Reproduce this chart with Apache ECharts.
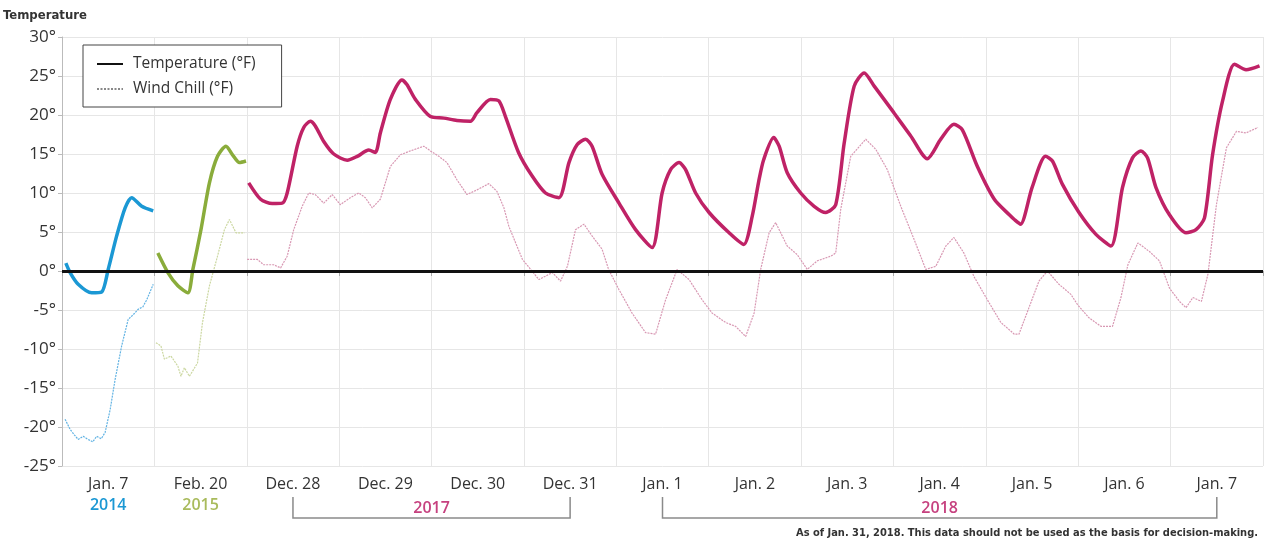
<!DOCTYPE html>
<html><head><meta charset="utf-8">
<script src="https://cdn.jsdelivr.net/npm/echarts@6/dist/echarts.min.js"></script>
<style>html,body{margin:0;padding:0;background:#fff}#c{width:1270px;height:546px}</style>
</head><body><div id="c"></div>
<script>
// ---- categories / tick labels ----
const categories = ['Jan. 7','Feb. 20','Dec. 28','Dec. 29','Dec. 30','Dec. 31','Jan. 1','Jan. 2','Jan. 3','Jan. 4','Jan. 5','Jan. 6','Jan. 7'];
const yTicks = [-25,-20,-15,-10,-5,0,5,10,15,20,25,30];

// ---- Jan 7, 2014 (hours since midnight) ----
const hours2014Temp = [1.0,2.1,4.2,7.7,10.3,12.0,14.2,16.4,18.1,20.7,23.7];
const temp2014      = [1.0,-0.2,-1.7,-2.8,-2.7,0.2,4.5,8.1,9.4,8.3,7.7];
const hours2014WC   = [0.8,2.1,3.2,4.2,5.5,6.8,8.0,9.0,10.2,11.2,12.5,13.8,15.5,17.2,18.5,19.8,21.0,22.0,23.7];
const chill2014     = [-19.0,-20.3,-21.0,-21.6,-21.2,-21.6,-21.9,-21.2,-21.5,-20.7,-17.8,-13.9,-9.6,-6.2,-5.6,-4.9,-4.6,-3.7,-1.7];

// ---- Feb 20, 2015 ----
const hours2015Temp = [0.9,3.5,6.1,8.7,10.0,12.1,14.3,16.4,18.6,20.3,22.1,23.8];
const temp2015      = [2.3,-0.2,-1.9,-2.8,0.2,5.3,11.3,14.7,16.0,14.9,13.9,14.1];
const hours2015WC   = [0.4,1.7,2.6,4.3,6.1,6.9,7.8,9.1,11.2,12.5,14.3,16.4,18.2,19.5,21.2,23.4];
const chill2015     = [-9.2,-9.6,-11.3,-10.9,-12.2,-13.5,-12.4,-13.5,-11.8,-6.6,-1.9,1.9,5.3,6.6,4.9,4.9];

// ---- Dec 28, 2017 - Jan 7, 2018 (hours since Dec 28 midnight) ----
const mainTempHours = [0.5,3.6,6.6,9.2,10.5,13.1,14.8,16.5,17.8,20.0,22.6,26.1,28.7,31.7,33.4,34.7,37.3,40.3,41.6,43.8,47.7,51.2,54.6,58.1,59.8,63.3,65.5,67.2,70.6,74.1,77.6,81.1,83.7,85.8,88.0,89.7,92.3,96.7,101.0,105.3,107.9,110.1,112.3,114.0,116.6,120.1,125.3,129.1,131.3,133.0,134.3,136.9,138.3,140.4,143.9,147.4,150.4,153.0,155.2,157.8,160.4,163.0,168.1,172.5,176.8,180.3,183.7,185.9,189.8,194.2,198.1,199.4,201.0,204.0,207.5,209.3,211.9,216.2,220.6,224.5,227.5,230.1,232.3,234.0,236.2,239.7,244.0,246.6,248.8,250.9,253.5,256.6,259.6,263.1];
const mainTemp      = [11.3,9.2,8.65,8.7,10.0,16.0,18.4,19.2,18.6,16.6,15.0,14.2,14.7,15.5,15.2,17.7,22.0,24.5,23.9,22.0,19.8,19.6,19.3,19.2,20.3,22.0,21.8,19.8,15.2,12.2,10.0,9.4,13.9,16.2,16.9,16.0,12.4,8.7,5.3,3.0,10.0,13.0,13.9,13.0,10.0,7.5,4.9,3.4,7.0,11.5,14.3,17.1,16.0,12.6,10.0,8.3,7.5,8.5,16.4,23.7,25.4,23.7,20.3,17.3,14.4,16.9,18.8,18.1,13.4,9.2,7.2,6.6,6.0,10.7,14.7,14.1,11.1,7.5,4.7,3.2,10.7,14.5,15.4,14.5,10.7,7.2,4.9,5.3,6.8,14.9,21.8,26.5,25.8,26.3];
const mainChillHours = [0.1,2.7,4.4,7.0,8.8,10.5,12.2,14.4,16.1,17.8,20.0,22.2,24.3,26.9,29.1,30.8,32.6,34.7,37.3,39.9,42.5,46.0,47.7,49.9,52.0,54.6,57.2,59.8,62.9,65.0,66.8,68.1,71.6,75.9,79.4,81.5,83.3,85.4,87.6,89.7,92.3,94.0,96.7,100.1,103.6,106.2,108.8,111.8,114.9,118.3,120.9,124.4,127.0,129.6,131.8,133.5,135.7,137.4,140.4,143.0,145.6,148.2,151.7,153.0,154.3,156.9,160.8,163.4,166.4,169.9,173.4,176.4,179.0,181.6,183.7,186.3,188.9,192.4,195.9,199.4,200.6,203.2,205.8,208.0,211.0,214.1,215.8,218.8,221.9,224.9,227.1,228.9,231.5,234.5,237.1,239.7,242.3,244.0,245.8,248.0,249.7,251.9,254.5,257.1,259.6,262.7];
const mainChill      = [1.5,1.5,0.8,0.8,0.4,1.9,5.3,8.3,10.0,9.8,8.7,9.8,8.5,9.4,10.0,9.4,8.1,9.2,13.4,14.9,15.4,16.0,15.4,14.7,13.9,11.7,9.8,10.4,11.2,10.2,8.1,5.7,1.5,-1.1,-0.2,-1.3,0.6,5.3,6.0,4.5,2.8,0.2,-2.4,-5.4,-7.9,-8.1,-3.7,0.2,-1.1,-3.7,-5.4,-6.6,-7.1,-8.4,-5.4,0.2,4.9,6.2,3.2,2.1,0.2,1.3,1.9,2.3,7.9,14.7,16.9,15.6,13.0,8.3,4.0,0.2,0.6,3.2,4.3,2.3,-0.7,-3.7,-6.6,-8.1,-8.1,-4.7,-1.3,0.0,-1.7,-3.0,-4.3,-6.0,-7.1,-7.1,-3.4,0.8,3.6,2.5,1.3,-2.2,-3.9,-4.7,-3.4,-3.9,-0.4,8.5,15.8,17.9,17.7,18.4];

const legendNames = ['Temperature (°F)', 'Wind Chill (°F)'];
const footnote = 'As of Jan. 31, 2018. This data should not be used as the basis for decision-making.';

// category index where each block starts
const start2014 = 0, start2015 = 1, startMain = 2;
const toPairs = (hrs, vals, startIdx) => hrs.map((h, i) => [startIdx + h / 24, vals[i]]);

const FONT = "'Open Sans', 'Noto Sans', sans-serif";
const NARROW = "'Liberation Sans Narrow', 'DejaVu Sans Condensed', sans-serif";

const chart = echarts.init(document.getElementById('c'), null, {renderer: 'canvas'});

const option = {
  animation: false,
  backgroundColor: '#fff',
  grid: {left: 62, right: 7, top: 37, bottom: 80, containLabel: false},
  legend: {
    data: legendNames,
    left: 83, top: 45, orient: 'vertical',
    borderColor: '#444', borderWidth: 1,
    padding: [9, 26, 8, 13], itemGap: 5,
    itemWidth: 26, itemHeight: 14,
    backgroundColor: '#fff',
    itemStyle: {opacity: 0, borderWidth: 0},
    textStyle: {fontFamily: FONT, fontSize: 15.5, color: '#333', lineHeight: 20, padding: [0, 0, 0, 5]}
  },
  xAxis: [{
    type: 'category', data: categories, boundaryGap: true,
    axisLine: {lineStyle: {color: '#aaa', width: 1}},
    axisTick: {show: true, length: 5, lineStyle: {color: '#aaa'}},
    axisLabel: {interval: 0, fontFamily: FONT, fontSize: 16, color: '#333', margin: 10},
    splitLine: {show: true, interval: 0, lineStyle: {color: '#e6e6e6'}}
  }, {
    type: 'value', min: 0, max: categories.length, show: false
  }],
  yAxis: {
    type: 'value', min: yTicks[0], max: yTicks[yTicks.length - 1], interval: 5,
    axisLine: {show: true, lineStyle: {color: '#bbb'}},
    axisTick: {show: true, length: 4, lineStyle: {color: '#bbb'}},
    axisLabel: {fontFamily: FONT, fontSize: 17, color: '#333', margin: 6, formatter: v => v + '°'},
    splitLine: {show: true, lineStyle: {color: '#e6e6e6'}}
  },
  series: [
    {name: legendNames[0], type: 'line', data: [], symbol: 'none', showSymbol: false, xAxisIndex: 1,
     itemStyle: {color: '#111', opacity: 0}, lineStyle: {color: '#111', width: 3.5}},
    {name: legendNames[1], type: 'line', data: [], symbol: 'none', showSymbol: false, xAxisIndex: 1,
     itemStyle: {color: '#999', opacity: 0}, lineStyle: {color: '#888', width: 1.5, type: [2, 1.5]}},
    {name: 'wc2014', type: 'line', xAxisIndex: 1, symbol: 'none', z: 2,
     data: toPairs(hours2014WC, chill2014, start2014),
     lineStyle: {color: '#62b3e3', width: 1.2, type: [2, 1]}},
    {name: 'wc2015', type: 'line', xAxisIndex: 1, symbol: 'none', z: 2,
     data: toPairs(hours2015WC, chill2015, start2015),
     lineStyle: {color: '#cbd7a0', width: 1.2, type: [2, 1]}},
    {name: 'wcMain', type: 'line', xAxisIndex: 1, symbol: 'none', z: 2,
     data: toPairs(mainChillHours, mainChill, startMain),
     lineStyle: {color: '#d898b3', width: 1.2, type: [2, 1]}},
    {name: 't2014', type: 'line', xAxisIndex: 1, symbol: 'none', z: 3, smooth: 0.25,
     data: toPairs(hours2014Temp, temp2014, start2014),
     lineStyle: {color: '#1b98d4', width: 3.5}},
    {name: 't2015', type: 'line', xAxisIndex: 1, symbol: 'none', z: 3, smooth: 0.25,
     data: toPairs(hours2015Temp, temp2015, start2015),
     lineStyle: {color: '#8aac3b', width: 3.5}},
    {name: 'tMain', type: 'line', xAxisIndex: 1, symbol: 'none', z: 3, smooth: 0.25,
     data: toPairs(mainTempHours, mainTemp, startMain),
     lineStyle: {color: '#bf2266', width: 3.5}},
    {name: 'zero', type: 'line', xAxisIndex: 1, data: [], z: 5,
     markLine: {silent: true, symbol: 'none', label: {show: false},
       lineStyle: {color: '#111', width: 3, type: 'solid'},
       data: [{yAxis: 0}]}}
  ]
};
chart.setOption(option);

// annotations positioned from the axis scale
const cx = idx => chart.convertToPixel({xAxisIndex: 1}, idx + 0.5);
const yearY = 505, bracketTop = 497, bracketBot = 518;
const bracket = (a, b) => ({
  type: 'polyline', silent: true,
  shape: {points: [[cx(a), bracketTop], [cx(a), bracketBot], [cx(b), bracketBot], [cx(b), bracketTop]]},
  style: {stroke: '#8a8a8a', lineWidth: 1.5, fill: null}
});
const yearText = (x, y, t, color) => ({
  type: 'text', silent: true, x: x, y: y,
  style: {text: t, fill: color, font: "600 16px " + FONT, textAlign: 'center', textVerticalAlign: 'middle'}
});
chart.setOption({
  graphic: [
    {type: 'text', x: 3, y: 16, style: {text: 'Temperature', fill: '#333', font: "bold 13px " + NARROW, textVerticalAlign: 'middle'}},
    yearText(cx(start2014), yearY, '2014', '#1b98d4'),
    yearText(cx(start2015), yearY, '2015', '#a9bb5c'),
    bracket(2, 5),
    bracket(6, 12),
    yearText((cx(2) + cx(5)) / 2, 508, '2017', '#c6417f'),
    yearText((cx(6) + cx(12)) / 2, 508, '2018', '#c6417f'),
    {type: 'text', x: 1258, y: 533, style: {text: footnote, fill: '#333', font: "bold 11px " + NARROW, textAlign: 'right', textVerticalAlign: 'middle'}}
  ]
});
</script></body></html>
